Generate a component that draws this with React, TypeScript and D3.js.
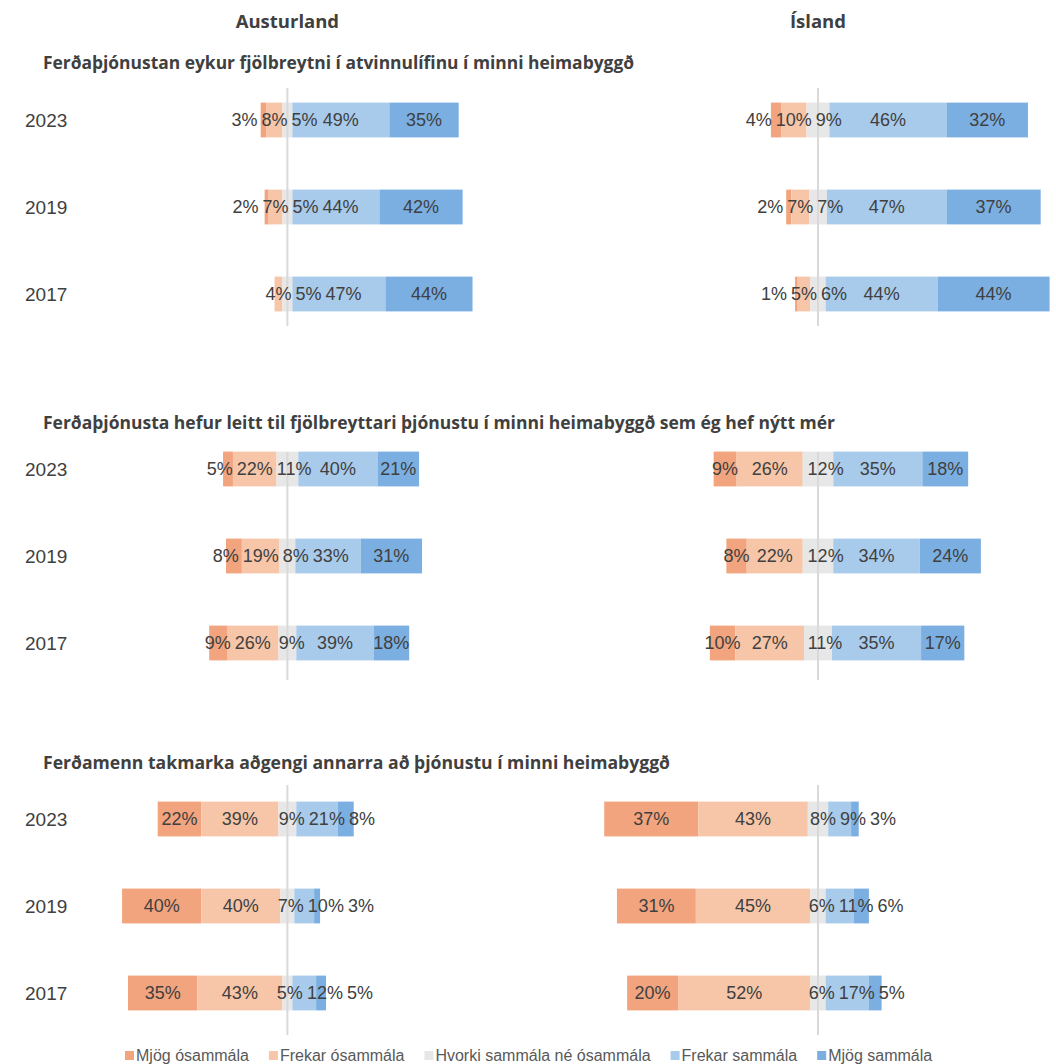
import React, { useEffect } from "react";
import * as d3 from "d3";

// ---------- DATA ----------
const regions = ["Austurland", "Ísland"];
const years = ["2023", "2019", "2017"];
const categories = [
  "Mjög ósammála",
  "Frekar ósammála",
  "Hvorki sammála né ósammála",
  "Frekar sammála",
  "Mjög sammála",
];
const questions = [
  "Ferðaþjónustan eykur fjölbreytni í atvinnulífinu í minni heimabyggð",
  "Ferðaþjónusta hefur leitt til fjölbreyttari þjónustu í minni heimabyggð sem ég hef nýtt mér",
  "Ferðamenn takmarka aðgengi annarra að þjónustu í minni heimabyggð",
];
// values per question -> region -> year (2023, 2019, 2017) -> categories
const q1Austurland = [
  [3, 8, 5, 49, 35],
  [2, 7, 5, 44, 42],
  [0, 4, 5, 47, 44],
];
const q1Island = [
  [4, 10, 9, 46, 32],
  [2, 7, 7, 47, 37],
  [1, 5, 6, 44, 44],
];
const q2Austurland = [
  [5, 22, 11, 40, 21],
  [8, 19, 8, 33, 31],
  [9, 26, 9, 39, 18],
];
const q2Island = [
  [9, 26, 12, 35, 18],
  [8, 22, 12, 34, 24],
  [10, 27, 11, 35, 17],
];
const q3Austurland = [
  [22, 39, 9, 21, 8],
  [40, 40, 7, 10, 3],
  [35, 43, 5, 12, 5],
];
const q3Island = [
  [37, 43, 8, 9, 3],
  [31, 45, 6, 11, 6],
  [20, 52, 6, 17, 5],
];
const dataByQuestion = [
  [q1Austurland, q1Island],
  [q2Austurland, q2Island],
  [q3Austurland, q3Island],
];

// ---------- STYLE / LAYOUT ----------
const W = 1056;
const H = 1064;
const colors = ["#F1A47E", "#F7C6A8", "#E7E7E7", "#A8CBEC", "#7BAFE1"];
const textColor = "#404040";
const labelFont = "18px 'Liberation Sans', Arial, sans-serif";
const panelTops = [76.5, 425.5, 775.5];
const panelHeight = 261;
const lineExtents = [
  [88, 326],
  [452, 680],
  [785, 1035],
];
const titleBaselines = [69, 429, 769];
const titleWidths = [591, 792, 627];

const xScales = [
  d3.scaleLinear().domain([-100, 100]).range([287.4 - 198, 287.4 + 198]),
  d3.scaleLinear().domain([-100, 100]).range([818 - 254.5, 818 + 254.5]),
];

let ctx: CanvasRenderingContext2D | null = null;
function measure(text: string, font: string) {
  if (!ctx) {
    const c = document.createElement("canvas");
    ctx = c.getContext("2d");
  }
  if (!ctx) return text.length * 10;
  ctx.font = font;
  return ctx.measureText(text).width;
}

type Seg = { i: number; v: number; x0: number; x1: number };

function segments(vals: number[], x: d3.ScaleLinear<number, number>): Seg[] {
  let start = -(vals[0] + vals[1] + vals[2] / 2);
  return vals.map((v, i) => {
    const s = { i, v, x0: x(start), x1: x(start + v) };
    start += v;
    return s;
  });
}

function labelPositions(vals: number[], segs: Seg[], x: d3.ScaleLinear<number, number>) {
  const gap = 4;
  const w = vals.map((v) => measure(`${v}%`, labelFont));
  const c = segs.map((s) => (s.x0 + s.x1) / 2);
  // neutral label sits on the right half of the neutral bar
  c[2] = x(vals[2] / 4);
  const sep = (a: number, b: number) => (w[a] + w[b]) / 2 + gap;
  const p = [...c];
  p[1] = c[1];
  p[0] = Math.min(c[0], p[1] - sep(0, 1));
  p[2] = Math.max(c[2], p[1] + sep(1, 2));
  p[3] = Math.max(c[3], p[2] + sep(2, 3));
  p[4] = Math.max(c[4], p[3] + sep(3, 4));
  return p;
}

function App() {
  useEffect(() => {
    document.body.style.margin = "0";
  }, []);

  const legendFont = "16px 'Liberation Sans', Arial, sans-serif";
  let lx = 125;
  const legendItems = categories.map((cat, i) => {
    const item = { cat, i, x: lx };
    lx += 10 + measure(cat, legendFont) + 21;
    return item;
  });

  return (
    <svg
      width={W}
      height={H}
      style={{ position: "absolute", left: 0, top: 0, background: "#fff" }}
      fontFamily="'Liberation Sans', Arial, sans-serif"
    >
      {regions.map((r, ri) => (
        <text
          key={r}
          x={xScales[ri](0)}
          y={28}
          textAnchor="middle"
          fontFamily="'Open Sans', sans-serif"
          fontWeight="bold"
          fontSize={18.5}
          fill={textColor}
        >
          {r}
        </text>
      ))}
      {questions.map((q, qi) => {
        const y = d3
          .scaleBand<string>()
          .domain(years)
          .range([panelTops[qi], panelTops[qi] + panelHeight])
          .paddingInner(0.6)
          .paddingOuter(0.3);
        return (
          <g key={qi}>
            <text
              x={43}
              y={titleBaselines[qi]}
              fontFamily="'Open Sans', sans-serif"
              fontWeight="bold"
              fontSize={18}
              fill={textColor}
              textLength={titleWidths[qi]}
              lengthAdjust="spacingAndGlyphs"
            >
              {q}
            </text>
            {years.map((yr) => (
              <text
                key={yr}
                x={25}
                y={(y(yr) as number) + y.bandwidth() / 2}
                dy="0.35em"
                fontSize={19}
                fill={textColor}
              >
                {yr}
              </text>
            ))}
            {regions.map((r, ri) => {
              const x = xScales[ri];
              const regionData = dataByQuestion[qi][ri];
              return (
                <g key={r}>
                  {years.map((yr, yi) => {
                    const vals = regionData[yi];
                    const segs = segments(vals, x);
                    const y0 = y(yr) as number;
                    return (
                      <g key={yr}>
                        {segs.map((s) =>
                          s.v > 0 ? (
                            <rect
                              key={s.i}
                              x={s.x0}
                              y={y0}
                              width={s.x1 - s.x0}
                              height={y.bandwidth()}
                              fill={colors[s.i]}
                            />
                          ) : null
                        )}
                      </g>
                    );
                  })}
                  <line
                    x1={x(0)}
                    x2={x(0)}
                    y1={lineExtents[qi][0]}
                    y2={lineExtents[qi][1]}
                    stroke="#D9D9D9"
                    strokeWidth={2}
                  />
                  {years.map((yr, yi) => {
                    const vals = regionData[yi];
                    const segs = segments(vals, x);
                    const pos = labelPositions(vals, segs, x);
                    const yc = (y(yr) as number) + y.bandwidth() / 2;
                    return (
                      <g key={yr}>
                        {vals.map((v, i) =>
                          v > 0 ? (
                            <text
                              key={i}
                              x={pos[i]}
                              y={yc}
                              dy="0.36em"
                              textAnchor="middle"
                              fontSize={18}
                              fill={textColor}
                            >
                              {`${v}%`}
                            </text>
                          ) : null
                        )}
                      </g>
                    );
                  })}
                </g>
              );
            })}
          </g>
        );
      })}
      {legendItems.map((it) => (
        <g key={it.cat}>
          <rect x={it.x} y={1051} width={9} height={9} fill={colors[it.i]} />
          <text x={it.x + 11} y={1061} fontSize={16} fill="#595959">
            {it.cat}
          </text>
        </g>
      ))}
    </svg>
  );
}

export default App;
